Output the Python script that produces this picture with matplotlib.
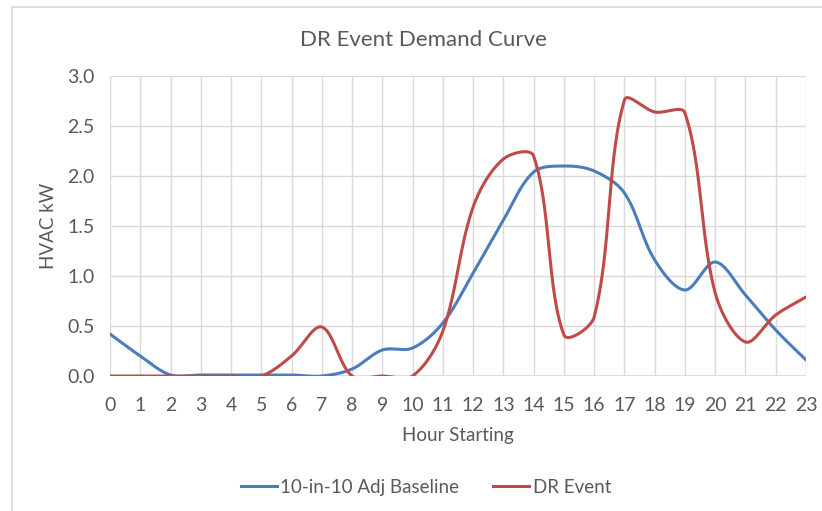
import numpy as np
import matplotlib
matplotlib.use('Agg')
import matplotlib.pyplot as plt
from matplotlib.lines import Line2D

hours = list(range(24))
baseline = [0.42, 0.20, 0.01, 0.01, 0.01, 0.01, 0.01, 0.00, 0.07, 0.26, 0.28, 0.53,
            1.03, 1.56, 2.04, 2.10, 2.05, 1.83, 1.16, 0.86, 1.14, 0.81, 0.46, 0.16]
dr_event = [0.0, 0.0, 0.0, 0.0, 0.0, 0.0, 0.20, 0.49, 0.0, 0.0, 0.0, 0.45,
            1.69, 2.17, 2.20, 0.41, 0.59, 2.76, 2.64, 2.63, 0.83, 0.34, 0.61, 0.79]

blue = '#4a7ebb'
red = '#be4b48'
gray = '#595959'
grid_c = '#d9d9d9'
fam = ['Lato', 'DejaVu Sans']

# pixels per unit on screen, used for chord lengths
SX, SY = 30.2, 100.0


def smooth(x, y, n=40):
    # excel-like smoothed line: bezier with chord-weighted control arms
    p = np.column_stack([np.asarray(x, float) * SX, np.asarray(y, float) * SY])
    p = np.vstack([p[0], p, p[-1]])
    out = []
    t = np.linspace(0, 1, n, endpoint=False)[:, None]
    for i in range(1, len(p) - 2):
        a, b = p[i], p[i + 1]
        d0 = np.linalg.norm(p[i] - p[i - 1])
        d1 = np.linalg.norm(b - a)
        d2 = np.linalg.norm(p[i + 2] - b)
        ta = p[i + 1] - p[i - 1]
        tb = p[i + 2] - p[i]
        wa = d1 / (d0 + d1) if d0 + d1 > 0 else 0.5
        wb = d1 / (d1 + d2) if d1 + d2 > 0 else 0.5
        c1 = a + ta * wa / 3
        c2 = b - tb * wb / 3
        out.append((1 - t) ** 3 * a + 3 * (1 - t) ** 2 * t * c1
                   + 3 * (1 - t) * t ** 2 * c2 + t ** 3 * b)
    out.append(p[-1][None, :])
    out = np.vstack(out)
    return out[:, 0] / SX, out[:, 1] / SY


fig = plt.figure(figsize=(8.22, 5.11), dpi=100)
ax = fig.add_axes([110 / 822, 1 - 376 / 511, 696 / 822, 300 / 511])

bx, by = smooth(hours, baseline)
rx, ry = smooth(hours, dr_event)
ax.plot(bx, by, color=blue, lw=2.2, solid_capstyle='round')
ax.plot(rx, ry, color=red, lw=2.2, solid_capstyle='round')

ax.set_xlim(0, 23)
ax.set_ylim(0, 3.0)
ax.set_xticks(hours)
ax.set_yticks(np.arange(0, 3.01, 0.5))
ax.set_yticklabels(['%.1f' % v for v in np.arange(0, 3.01, 0.5)])
ax.grid(True, color=grid_c, lw=1)
ax.set_axisbelow(True)
for s in ax.spines.values():
    s.set_visible(False)
ax.axhline(0, color=grid_c, lw=1.2, zorder=0.5)
ax.tick_params(length=0, labelsize=14, labelcolor=gray)
ax.tick_params(axis='x', pad=15)
ax.tick_params(axis='y', pad=11)
for lab in ax.get_xticklabels() + ax.get_yticklabels():
    lab.set_family(fam)

fig.text(458 / 822, 1 - 436 / 511, 'Hour Starting', ha='center', va='center',
         fontsize=13.5, color=gray, family=fam)
fig.text(48 / 822, 1 - 226 / 511, 'HVAC kW', ha='center', va='center', rotation=90,
         fontsize=13.5, color=gray, family=fam)
fig.text(423 / 822, 1 - 40 / 511, 'DR Event Demand Curve', ha='center', va='center',
         fontsize=16, color=gray, family=fam)

handles = [Line2D([], [], color=blue, lw=2.2), Line2D([], [], color=red, lw=2.2)]
leg = fig.legend(handles, ['10-in-10 Adj Baseline', 'DR Event'], loc='center',
                 bbox_to_anchor=(426 / 822, 1 - 487 / 511), ncol=2, frameon=False,
                 handlelength=1.9, handletextpad=0.2, columnspacing=1.8,
                 prop={'family': fam, 'size': 13.5})
for t in leg.get_texts():
    t.set_color(gray)

# chart area border (only top and left show in the crop)
fig.add_artist(Line2D([12 / 822, 12 / 822], [0, 1 - 7 / 511], color=grid_c, lw=1.2))
fig.add_artist(Line2D([12 / 822, 1], [1 - 7 / 511, 1 - 7 / 511], color=grid_c, lw=1.2))

fig.savefig('out.png', dpi=100)
